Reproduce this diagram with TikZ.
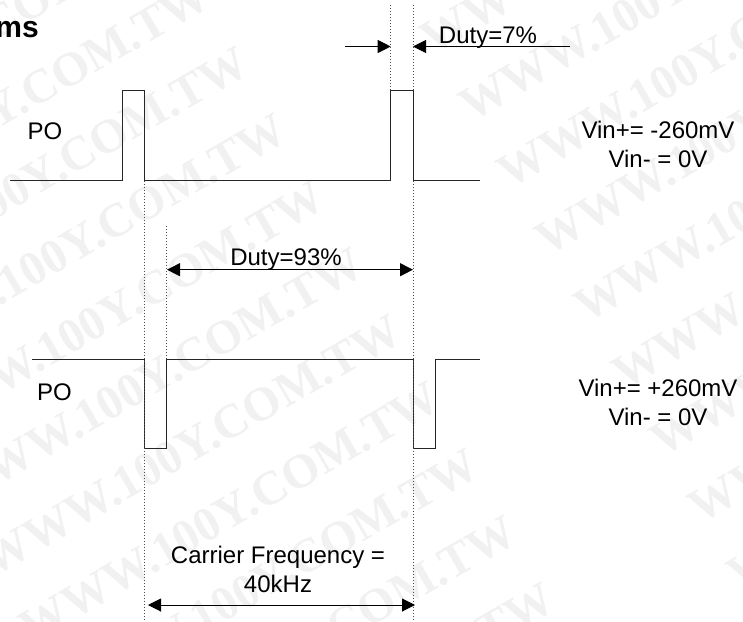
\documentclass[tikz,border=0pt]{standalone}
\usepackage{fontspec}
\setmainfont{Liberation Sans}
\newfontfamily\markfont{Liberation Serif}
\usetikzlibrary{arrows.meta}
\definecolor{markgray}{HTML}{F1F1F1}

\begin{document}
\begin{tikzpicture}
		[x=1pt, y=-1pt, wave/.style = {line width=1pt, black!85},
		guide/.style = {line width=.7pt, black!70, dash pattern=on 1pt off 2pt},
		dim/.style = {line width=1pt, {Triangle[length=13pt,width=13pt]}-{Triangle[length=13pt,width=13pt]}},
		dimend/.style = {line width=1pt, -{Triangle[length=13pt,width=13pt]}},
		lbl/.style = {inner sep=0, anchor=base, align=center, font=\fontsize{24}{29}\selectfont},
		wmark/.style = {inner sep=0, rotate=30, text=markgray, font=\markfont\bfseries\fontsize{48}{48}\selectfont}]
	\clip (0,0) rectangle (743,621);
	\foreach \k in {-2,...,10} {
		\node[wmark, anchor=base east] (mka\k) at (252+38.3*\k,72+67*\k) {WWW.100Y.COM.TW};
	}
	\foreach \k in {-3,...,7} {
		\node[wmark, anchor=base west] (mkb\k) at (471+38.3*\k,123+67*\k) {WWW.100Y.COM.TW};
	}
	% top wave
	\coordinate (t0) at (10,180.5);
	\coordinate (t1) at (122,180.5);
	\coordinate (t2) at (122,90.5);
	\coordinate (t3) at (144.5,90.5);
	\coordinate (t4) at (144.5,180.5);
	\coordinate (t5) at (390.7,180.5);
	\coordinate (t6) at (390.7,90.5);
	\coordinate (t7) at (413,90.5);
	\coordinate (t8) at (413,180.5);
	\coordinate (t9) at (480,180.5);
	\draw[wave] (t0) -- (t1) -- (t2) -- (t3) -- (t4) -- (t5) -- (t6) -- (t7) -- (t8) -- (t9);
	% bottom wave
	\coordinate (b0) at (32,359);
	\coordinate (b1) at (144.5,359);
	\coordinate (b2) at (144.5,448);
	\coordinate (b3) at (166.7,448);
	\coordinate (b4) at (166.7,359);
	\coordinate (b5) at (413,359);
	\coordinate (b6) at (413,448);
	\coordinate (b7) at (435,448);
	\coordinate (b8) at (435,359);
	\coordinate (b9) at (480,359);
	\draw[wave] (b0) -- (b1) -- (b2) -- (b3) -- (b4) -- (b5) -- (b6) -- (b7) -- (b8) -- (b9);
	% guides
	\coordinate (g1) at (390.7,5);
	\coordinate (g2) at (413,5);
	\coordinate (g3) at (166.7,226);
	\coordinate (g4) at (144.5,621);
	\coordinate (g5) at (413,621);
	\draw[guide] (g1) -- (t6);
	\draw[guide] (g2) -- (t7);
	\draw[guide] (g3) -- (b4);
	\draw[guide] (t4) -- (g4);
	\draw[guide] (t8) -- (g5);
	% dimensions
	\coordinate (d1) at (345,46.5);
	\coordinate (d2) at (390.7,46.5);
	\coordinate (d3) at (570,46.5);
	\coordinate (d4) at (413,46.5);
	\coordinate (d5) at (167,269.7);
	\coordinate (d6) at (413,269.7);
	\coordinate (d7) at (148,605);
	\coordinate (d8) at (415,605);
	\draw[dimend] (d1) -- (d2);
	\draw[dimend] (d3) -- (d4);
	\draw[dim] (d5) -- (d6);
	\draw[dim] (d7) -- (d8);
	% labels
	\node[inner sep=0, anchor=base east, font=\bfseries\fontsize{30}{30}\selectfont] (title) at (39,37) {ms};
	\node[lbl] (po1) at (45,139) {PO};
	\node[lbl] (po2) at (54.5,400.7) {PO};
	\node[lbl] (duty7) at (488,43) {Duty=7\%};
	\node[lbl] (duty93) at (286,265) {Duty=93\%};
	\node[lbl] (carrier) at (278,592) {Carrier Frequency =\\40kHz};
	\node[lbl] (vin1) at (658,167) {Vin+= -260mV\\Vin- = 0V};
	\node[lbl] (vin2) at (658,425) {Vin+= +260mV\\Vin- = 0V};
\end{tikzpicture}
\end{document}
